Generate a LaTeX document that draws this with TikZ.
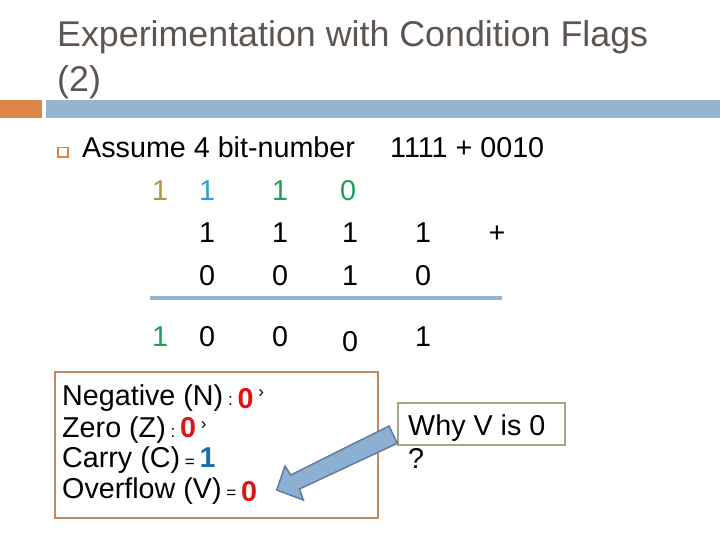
\documentclass[tikz,border=0pt]{standalone}
\usepackage{fontspec}
\setmainfont{Liberation Sans}
\usepackage{tikz}

\definecolor{titelgrau}{RGB}{95,85,80}
\definecolor{balkenorange}{RGB}{224,133,74}
\definecolor{balkenblau}{RGB}{148,180,208}
\definecolor{uebertraggold}{RGB}{176,148,72}
\definecolor{uebertragblau}{RGB}{41,160,210}
\definecolor{uebertraggruen}{RGB}{30,160,90}
\definecolor{flaggenrot}{RGB}{222,20,20}
\definecolor{flaggenblau}{RGB}{30,110,170}
\definecolor{kastenbraun}{RGB}{192,138,98}
\definecolor{kastenoliv}{RGB}{165,165,135}
\definecolor{pfeilblau}{RGB}{140,175,210}
\definecolor{pfeilrand}{RGB}{95,125,160}

\newcommand{\gross}{\fontsize{28.7}{33}\selectfont}
\newcommand{\klein}{\fontsize{17}{17}\selectfont}

\tikzset{
  ziffer/.style={anchor=base, inner sep=0pt, font=\gross},
  zeile/.style={anchor=base west, inner sep=0pt, font=\gross}
}

\begin{document}
\begin{tikzpicture}[x=1pt,y=-1pt]
\useasboundingbox (0,0) rectangle (720,540);

	% Titel in zwei Zeilen
	\node[anchor=base west, inner sep=0pt, text=titelgrau, font=\fontsize{35.8}{40}\selectfont] (titel1) at (57,47) {Experimentation with Condition Flags};
	\node[anchor=base west, inner sep=0pt, text=titelgrau, font=\fontsize{35.8}{40}\selectfont] (titel2) at (57,92) {(2)};

	% Balken unter dem Titel
	\fill[balkenorange] (0,100) rectangle (42,118);
	\fill[balkenblau] (46,100) rectangle (720,118);

	% Aufzaehlungszeichen und erste Zeile
	\draw[balkenorange, line width=1.6pt] (58,147.5) rectangle (68,157);
	\node[zeile] (annahme) at (82,158) {Assume 4 bit-number};
	\node[zeile] (aufgabe) at (390,158) {1111 + 0010};

	% Uebertraege
	\node[ziffer, text=uebertraggold] (u1) at (160,201) {1};
	\node[ziffer, text=uebertragblau] (u2) at (207,201) {1};
	\node[ziffer, text=uebertraggruen] (u3) at (280,201) {1};
	\node[ziffer, text=uebertraggruen] (u4) at (348,201) {0};

	% Erster Summand
	\foreach \x [count=\i] in {207,280,350,423}
		\node[ziffer] (a\i) at (\x,243) {1};
	\node[ziffer] (plus) at (497,243) {+};

	% Zweiter Summand
	\node[ziffer] (b1) at (207,285) {0};
	\node[ziffer] (b2) at (280,285) {0};
	\node[ziffer] (b3) at (350,285) {1};
	\node[ziffer] (b4) at (423,285) {0};

	% Summenstrich
	\draw[balkenblau, line width=4pt] (150,298) -- (502,298);

	% Ergebnis
	\node[ziffer, text=uebertraggruen] (e0) at (160,346) {1};
	\node[ziffer] (e1) at (207,346) {0};
	\node[ziffer] (e2) at (280,346) {0};
	\node[ziffer] (e3) at (350,351) {0};
	\node[ziffer] (e4) at (423,346) {1};

	% Kasten mit den Flaggen
	\draw[kastenbraun, line width=2pt] (55,372) rectangle (378,518);
	\node[zeile] (neg) at (62,405) {Negative (N)\,{\klein:}\,\raisebox{-3pt}{\bfseries\color{flaggenrot}0}\,\raisebox{8pt}{\klein ›}};
	\node[zeile] (null) at (62,437) {Zero (Z)\,{\klein:}\,{\bfseries\color{flaggenrot}0}\,\raisebox{8pt}{\klein ›}};
	\node[zeile] (carry) at (62,467) {Carry (C)\,{\klein=}\,{\bfseries\color{flaggenblau}1}};
	\node[zeile] (ueberlauf) at (62,498) {Overflow (V)\,{\klein=}\,\raisebox{-3pt}{\bfseries\color{flaggenrot}0}};

	% Kasten mit der Frage
	\draw[kastenoliv, line width=2pt] (398,403) rectangle (565,445);
	\node[zeile] (frage) at (408,435) {Why V is 0};
	\node[zeile] (fragezeichen) at (408,468) {?};

	% Blockpfeil von der Frage zum Overflow
	\coordinate (spitze) at (276.7,490);
	\filldraw[fill=pfeilblau, draw=pfeilrand, line width=1.5pt, line join=miter]
		(389,426) -- (397.3,443.3) -- (299.5,489) -- (303.3,500) -- (spitze)
		-- (285,466) -- (290.7,475) -- cycle;

\end{tikzpicture}
\end{document}
